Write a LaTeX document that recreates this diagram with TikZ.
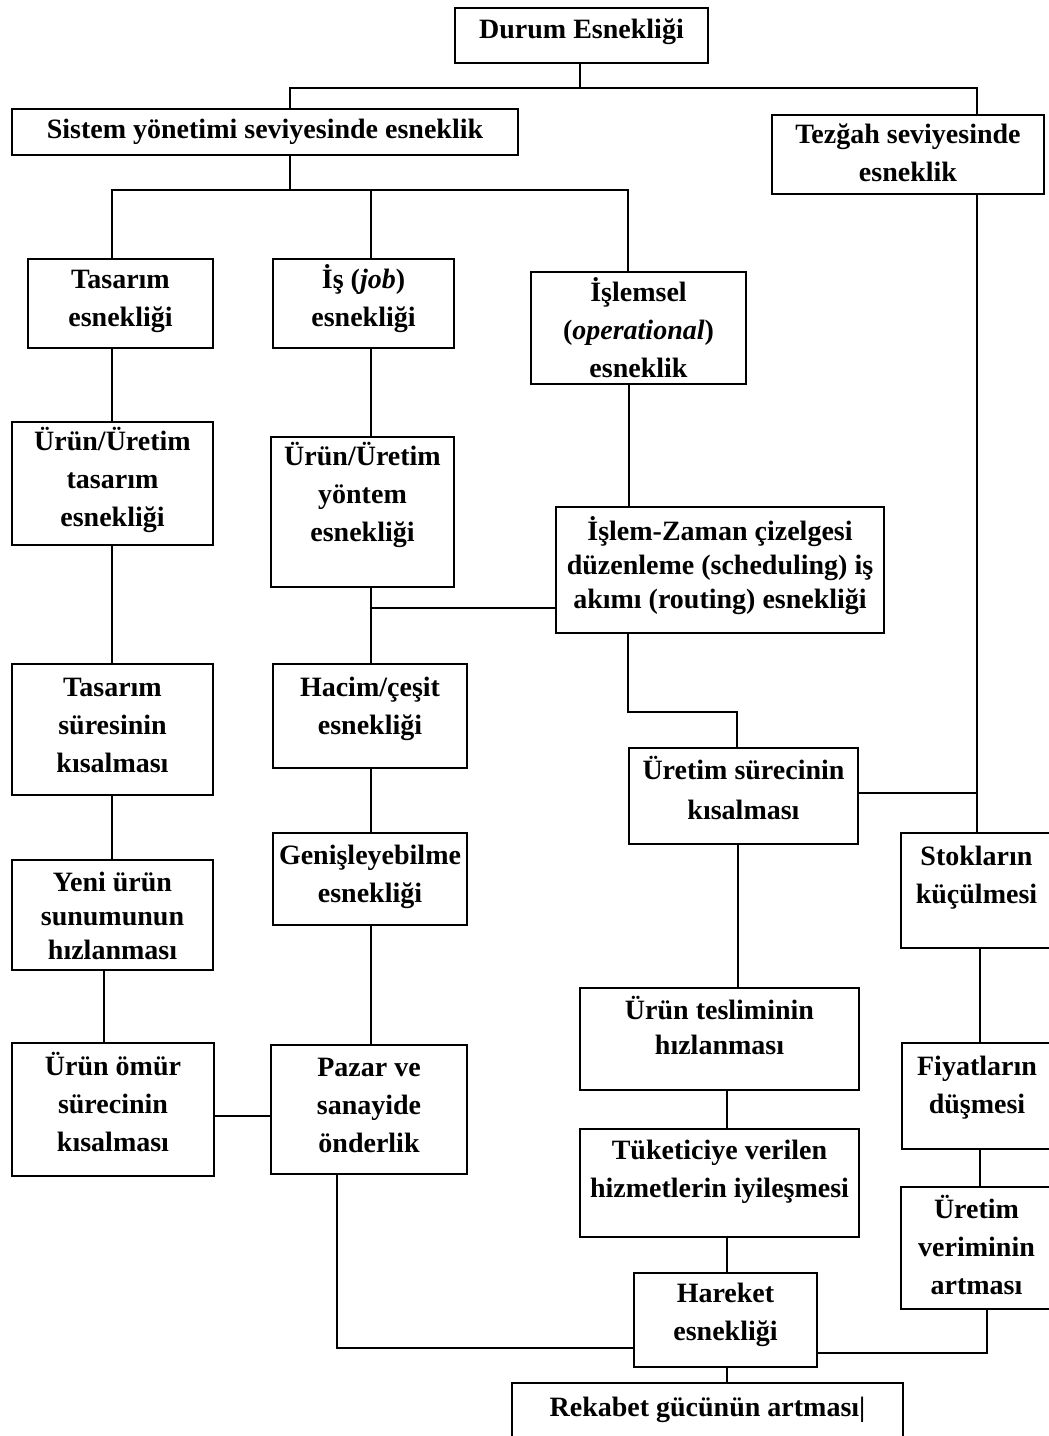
\documentclass[tikz,border=0pt]{standalone}
\usepackage{fontspec}
\setmainfont{Liberation Serif}
\usetikzlibrary{fit,calc}
\newcommand\flowbox[8][38]{%
  \node[box, fit={(#3,#4) (#5,#6)}] (#2) {};
  \node[txt, font=\bfseries\fontsize{28}{#1}\selectfont, anchor=north] (#2-t) at ({(#3+#5)/2},{#7-18}) {\rule{0pt}{26pt}#8};
}
\begin{document}
\begin{tikzpicture}[x=1pt,y=-1pt,
  box/.style={draw=black, line width=1.8pt, inner sep=0pt},
  txt/.style={inner sep=0pt, align=center, text=black},
  conn/.style={draw=black, line width=1.4pt}]
\fill[white] (0,0) rectangle (1049,1436);
\useasboundingbox (0,0) rectangle (1049,1436);

\flowbox{durum}{455}{8}{708}{63}{30}{Durum Esnekliği}
\flowbox{sistem}{12}{109}{518}{155}{130}{Sistem yönetimi seviyesinde esneklik}
\flowbox{tezgah}{772}{115}{1044}{194}{135}{Tezğah seviyesinde\\esneklik}
\flowbox{tasarim}{28}{259}{213}{348}{280}{Tasarım\\esnekliği}
\flowbox{is}{273}{259}{454}{348}{280}{İş (\textit{job})\\esnekliği}
\flowbox{islemsel}{531}{272}{746}{384}{293}{İşlemsel\\(\textit{operational})\\esneklik}
\flowbox{urunTas}{12}{422}{213}{545}{442}{Ürün/Üretim\\tasarım\\esnekliği}
\flowbox{yontem}{271}{437}{454}{587}{457}{Ürün/Üretim\\yöntem\\esnekliği}
\flowbox[34]{islemZ}{556}{507}{884}{633}{532}{İşlem-Zaman çizelgesi\\düzenleme (scheduling) iş\\akımı (routing) esnekliği}
\flowbox{tasSure}{12}{664}{213}{795}{688}{Tasarım\\süresinin\\kısalması}
\flowbox{hacim}{273}{664}{467}{768}{688}{Hacim/çeşit\\esnekliği}
\flowbox[40]{uretSur}{629}{748}{858}{844}{771}{Üretim sürecinin\\kısalması}
\flowbox{genis}{273}{833}{467}{925}{856}{Genişleyebilme\\esnekliği}
\flowbox{stok}{901}{833}{1052}{948}{857}{Stokların\\küçülmesi}
\flowbox[34]{yeni}{12}{860}{213}{970}{883}{Yeni ürün\\sunumunun\\hızlanması}
\flowbox[35]{teslim}{580}{988}{859}{1090}{1011}{Ürün tesliminin\\hızlanması}
\flowbox{omur}{12}{1043}{214}{1176}{1067}{Ürün ömür\\sürecinin\\kısalması}
\flowbox{pazar}{271}{1045}{467}{1174}{1068}{Pazar ve\\sanayide\\önderlik}
\flowbox{fiyat}{902}{1043}{1052}{1149}{1067}{Fiyatların\\düşmesi}
\flowbox{tuketici}{580}{1129}{859}{1237}{1151}{Tüketiciye verilen\\hizmetlerin iyileşmesi}
\flowbox{verim}{901}{1187}{1052}{1309}{1210}{Üretim\\veriminin\\artması}
\flowbox{hareket}{634}{1273}{817}{1367}{1294}{Hareket\\esnekliği}
\flowbox{rekabet}{512}{1383}{903}{1442}{1408}{Rekabet gücünün artması|}

% connectors
\coordinate (j1) at (580,88);
\coordinate (j1L) at (290,88);
\coordinate (j1R) at (977,88);
\draw[conn] (durum.south -| j1) -- (j1);
\draw[conn] (sistem.north -| j1L) |- (j1R) -- (tezgah.north -| j1R);
\coordinate (j2) at (290,190);
\coordinate (j2L) at (112,190);
\coordinate (j2M) at (371,190);
\coordinate (j2R) at (628,190);
\draw[conn] (sistem.south -| j2) -- (j2);
\draw[conn] (tasarim.north -| j2L) |- (j2R) -- (islemsel.north -| j2R);
\draw[conn] (is.north -| j2M) -- (j2M);
\coordinate (xT) at (977,793);
\draw[conn] (tezgah.south -| xT) -- (stok.north -| xT);
\draw[conn] (uretSur.east |- xT) -- (xT);
\coordinate (xA) at (112,0);
\draw[conn] (tasarim.south -| xA) -- (urunTas.north -| xA);
\draw[conn] (urunTas.south -| xA) -- (tasSure.north -| xA);
\draw[conn] (tasSure.south -| xA) -- (yeni.north -| xA);
\coordinate (xB) at (104,0);
\draw[conn] (yeni.south -| xB) -- (omur.north -| xB);
\coordinate (yC) at (0,1116);
\draw[conn] (omur.east |- yC) -- (pazar.west |- yC);
\coordinate (xD) at (371,0);
\draw[conn] (is.south -| xD) -- (yontem.north -| xD);
\draw[conn] (yontem.south -| xD) -- (hacim.north -| xD);
\coordinate (jE) at (371,608);
\draw[conn] (jE) -- (islemZ.west |- jE);
\draw[conn] (hacim.south -| xD) -- (genis.north -| xD);
\draw[conn] (genis.south -| xD) -- (pazar.north -| xD);
\coordinate (jF) at (337,1348);
\draw[conn] (pazar.south -| jF) |- (hareket.west |- jF);
\coordinate (xG) at (629,0);
\draw[conn] (islemsel.south -| xG) -- (islemZ.north -| xG);
\coordinate (jH1) at (628,712);
\coordinate (jH2) at (737,712);
\draw[conn] (islemZ.south -| jH1) -- (jH1) -- (jH2) -- (uretSur.north -| jH2);
\coordinate (xI) at (738,0);
\draw[conn] (uretSur.south -| xI) -- (teslim.north -| xI);
\coordinate (xJ) at (727,0);
\draw[conn] (teslim.south -| xJ) -- (tuketici.north -| xJ);
\draw[conn] (tuketici.south -| xJ) -- (hareket.north -| xJ);
\draw[conn] (hareket.south -| xJ) -- (rekabet.north -| xJ);
\coordinate (xK) at (980,0);
\draw[conn] (stok.south -| xK) -- (fiyat.north -| xK);
\draw[conn] (fiyat.south -| xK) -- (verim.north -| xK);
\coordinate (jL) at (987,1353);
\draw[conn] (verim.south -| jL) |- (hareket.east |- jL);
\end{tikzpicture}
\end{document}
